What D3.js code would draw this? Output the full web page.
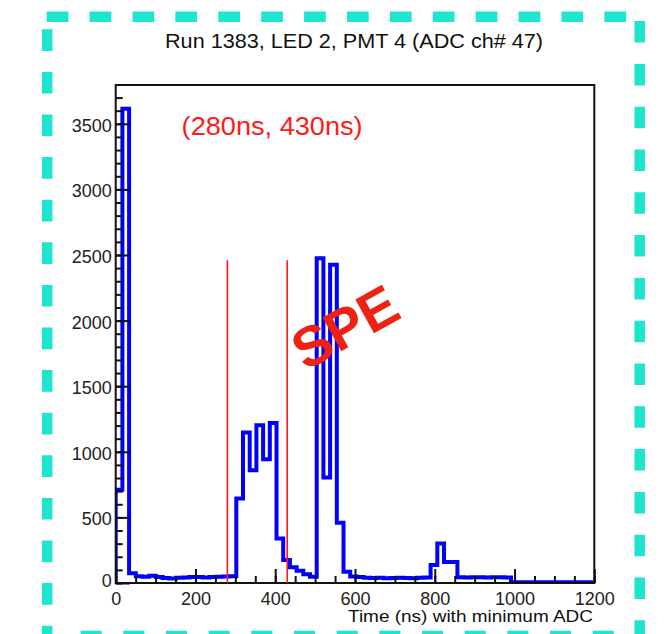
<!DOCTYPE html>
<html><head><meta charset="utf-8">
<script src="https://cdn.jsdelivr.net/npm/d3@7"></script>
<style>body{margin:0;background:#fff}svg{display:block}text{font-family:"Liberation Sans",Arial,Helvetica,sans-serif}</style>
</head><body>
<svg id="c" width="667" height="634"></svg>
<script>
// ---- data ----
const title = "Run 1383, LED 2, PMT 4 (ADC ch# 47)";
const xTitle = "Time (ns) with minimum ADC";
const windowLabel = "(280ns, 430ns)";
const stampLabel = "SPE";
const binWidthNs = 16.8;
const counts = [710, 3615, 75, 52, 48, 55, 45, 38, 35, 40, 42, 45, 45, 42, 45, 48, 50, 52,
  645, 1147, 860, 1203, 944, 1220, 340, 175, 120, 94, 66, 48,
  2475, 805, 2425, 460, 86, 50,
  45, 40, 38, 40, 36, 38, 40, 38, 36, 40, 42,
  137, 302, 160, 160,
  43, 42, 44, 43, 42, 43, 44, 42,
  5, 5, 5, 5, 5, 5, 5, 5, 5, 5, 5, 5];
const windowNs = [280, 430];
const windowTop = 2460;
const xMajorTicks = [0, 200, 400, 600, 800, 1000, 1200];
const xMinorTicks = d3.range(0, 1201, 50);
const yMajorTicks = [0, 500, 1000, 1500, 2000, 2500, 3000, 3500];
const yMinorTicks = d3.range(0, 3701, 100);

// ---- layout ----
const L = 115.7, R = 594.3, T = 85, B = 583;
const svg = d3.select("#c");
const x = d3.scaleLinear().domain([0, 1200]).range([L, R]);
const y = d3.scaleLinear().domain([0, d3.max(counts) * 1.05]).range([B, T]);

// dashed border
const border = svg.append("g").attr("fill", "none").attr("stroke", "#1de5cf").attr("stroke-width", 10.5);
border.append("line").attr("x1", 46.7).attr("x2", 640).attr("y1", 16.7).attr("y2", 16.7).attr("stroke-dasharray", "21.7 21.2");
border.append("line").attr("x1", 47.2).attr("x2", 47.2).attr("y1", 29.3).attr("y2", 640).attr("stroke-dasharray", "21.7 20.9");
border.append("line").attr("x1", 639.7).attr("x2", 639.7).attr("y1", 21.1).attr("y2", 640).attr("stroke-dasharray", "21.5 21.3");
border.append("line").attr("x1", 80.7).attr("x2", 640).attr("y1", 636).attr("y2", 636).attr("stroke-dasharray", "21 21.67");

// clip
svg.append("clipPath").attr("id", "frame").append("rect").attr("x", L).attr("y", T).attr("width", R - L).attr("height", B - T);

// histogram outline
const p = d3.path();
p.moveTo(x(0), y(0));
counts.forEach((v, i) => {
  const x0 = x(i * binWidthNs), x1 = x((i + 1) * binWidthNs);
  p.lineTo(x0, y(v));
  p.lineTo(x1, y(v));
});
p.lineTo(x(counts.length * binWidthNs), y(0));
svg.append("path").attr("d", p.toString()).attr("clip-path", "url(#frame)")
  .attr("fill", "none").attr("stroke", "#0000ff").attr("stroke-width", 4).attr("stroke-linejoin", "miter");

// axes
const axColor = "#111";
const gx = svg.append("g").attr("transform", `translate(0,${B})`);
gx.call(d3.axisBottom(x).tickValues(xMinorTicks).tickSize(-7).tickSizeOuter(0).tickFormat(""));
gx.call(g => g.select(".domain").remove());
const gx2 = svg.append("g").attr("transform", `translate(0,${B})`);
gx2.call(d3.axisBottom(x).tickValues(xMajorTicks).tickSize(-14).tickSizeOuter(0).tickPadding(9).tickFormat(d3.format("d")));
gx2.call(g => g.select(".domain").remove());

const gy = svg.append("g").attr("transform", `translate(${L},0)`);
gy.call(d3.axisLeft(y).tickValues(yMinorTicks).tickSize(-7).tickSizeOuter(0).tickFormat(""));
gy.call(g => g.select(".domain").remove());
const gy2 = svg.append("g").attr("transform", `translate(${L},0)`);
gy2.call(d3.axisLeft(y).tickValues(yMajorTicks).tickSize(-14).tickSizeOuter(0).tickPadding(4).tickFormat(d3.format("d")));
gy2.call(g => g.select(".domain").remove());
gy2.selectAll(".tick text").attr("dy", "0.42em");
gy2.selectAll(".tick text").filter(d => d === 0).attr("dy", "0.2em");

svg.selectAll(".tick line").attr("stroke", axColor).attr("stroke-width", 2);
svg.selectAll(".tick text").attr("fill", "#222").style("font-size", "18px").style("font-family", '"Liberation Sans",Arial,sans-serif');

// frame
svg.append("rect").attr("x", L).attr("y", T).attr("width", R - L).attr("height", B - T)
  .attr("fill", "none").attr("stroke", axColor).attr("stroke-width", 2);

// window lines
svg.append("g").selectAll("line").data(windowNs).join("line")
  .attr("x1", d => x(d)).attr("x2", d => x(d)).attr("y1", y(0)).attr("y2", y(windowTop))
  .attr("stroke", "#ff1a1a").attr("stroke-width", 1.6);

// texts
svg.append("text").attr("x", 354).attr("y", 48.3).attr("text-anchor", "middle")
  .attr("textLength", 378).attr("lengthAdjust", "spacingAndGlyphs")
  .style("font-size", "20px").attr("fill", "#111").text(title);
svg.append("text").attr("x", 593).attr("y", 622).attr("text-anchor", "end")
  .attr("textLength", 245).attr("lengthAdjust", "spacingAndGlyphs")
  .style("font-size", "17px").attr("fill", "#111").text(xTitle);
svg.append("text").attr("x", 181.6).attr("y", 134.5)
  .attr("textLength", 181).attr("lengthAdjust", "spacingAndGlyphs")
  .style("font-size", "26px").attr("fill", "#ff1a1a").text(windowLabel);
svg.append("text").attr("transform", "translate(345,327) rotate(-29)")
  .attr("text-anchor", "middle").attr("dominant-baseline", "central")
  .style("font-size", "56px").style("font-weight", "bold").attr("fill", "#ee2212").text(stampLabel);
</script>
</body></html>
